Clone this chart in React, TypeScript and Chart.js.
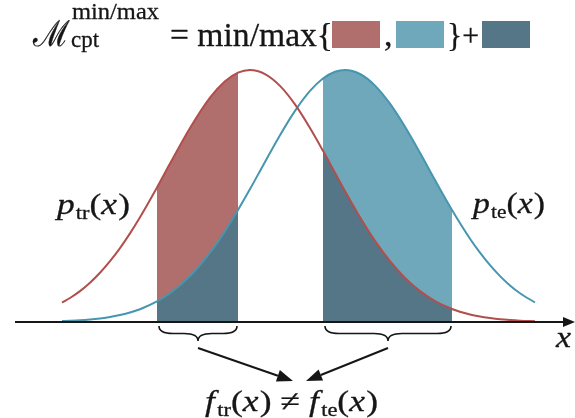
import React, { useEffect, useRef } from "react";
import { Chart, registerables } from "chart.js";

Chart.register(...registerables);

// Sample positions along the x axis and the two densities
const xs = [62, 70, 80, 90, 100, 110, 120, 130, 140, 157, 170, 190, 210, 225, 238, 250, 265, 280, 295, 310, 323, 335, 345, 360, 375, 390, 405, 420, 435, 452, 470, 480, 490, 500, 510, 520, 535];
const pTr = [19.4, 24.0, 30.9, 39.3, 49.2, 60.8, 73.9, 88.6, 104.7, 134.5, 158.4, 194.0, 224.4, 240.8, 249.4, 252, 247.9, 236.1, 217.6, 194.0, 171.2, 149.2, 130.9, 104.7, 81.1, 60.8, 44.1, 30.9, 21.0, 13.0, 7.5, 5.4, 3.9, 2.7, 1.9, 1.3, 0.7];
const pTe = [0.9, 1.2, 1.7, 2.5, 3.6, 5.0, 7.0, 9.5, 12.8, 20.6, 28.8, 45.9, 69.3, 90.8, 112.0, 132.9, 160.1, 186.8, 211.1, 231.1, 243.5, 250.2, 252, 248.0, 236.4, 218.3, 195.2, 169.2, 141.9, 112.0, 83.3, 69.3, 56.8, 45.9, 36.6, 28.8, 19.5];

// Shaded intervals
const trRegion = [157, 238];
const teRegion = [323, 452];

const xRange = [0, 575];
const yRange = [-96, 322];

const RED_LINE = "#b24e4c";
const BLUE_LINE = "#4596ae";
const RED_FILL = "#b06e6c";
const BLUE_FILL = "#6fa8ba";
const DARK_FILL = "#557686";
const INK = "#161616";

const SERIF = '"Liberation Serif", "DejaVu Serif", serif';

type Run = { t: string; size: number; italic?: boolean; dy?: number; gap?: number };

function fontOf(r: Run) {
  return `${r.italic ? "italic " : ""}${r.size}px ${SERIF}`;
}

// draw a sequence of runs, stretched horizontally to span `width`
function drawRuns(ctx: CanvasRenderingContext2D, x: number, y: number, runs: Run[], width?: number) {
  let total = 0;
  for (const r of runs) {
    ctx.font = fontOf(r);
    total += ctx.measureText(r.t).width + (r.gap || 0);
  }
  const k = width ? width / total : 1;
  ctx.save();
  ctx.translate(x, y);
  ctx.scale(k, 1);
  ctx.lineWidth = 0.3;
  ctx.lineJoin = "round";
  let cx = 0;
  for (const r of runs) {
    ctx.font = fontOf(r);
    ctx.fillText(r.t, cx, r.dy || 0);
    ctx.strokeText(r.t, cx, r.dy || 0);
    cx += ctx.measureText(r.t).width + (r.gap || 0);
  }
  ctx.restore();
}

function pts(lo: number, hi: number, vals: number[]) {
  const out: { x: number; y: number }[] = [];
  xs.forEach((x, i) => {
    if (x >= lo && x <= hi) out.push({ x, y: vals[i] });
  });
  return out;
}

function brace(ctx: CanvasRenderingContext2D, x1: number, x2: number, y0: number, h: number) {
  const mid = (x1 + x2) / 2;
  const r = Math.min(14, (x2 - x1) / 4);
  const ym = y0 + h / 2;
  ctx.beginPath();
  ctx.moveTo(x1, y0);
  ctx.quadraticCurveTo(x1, ym, x1 + r, ym);
  ctx.lineTo(mid - r, ym);
  ctx.quadraticCurveTo(mid, ym, mid, y0 + h);
  ctx.quadraticCurveTo(mid, ym, mid + r, ym);
  ctx.lineTo(x2 - r, ym);
  ctx.quadraticCurveTo(x2, ym, x2, y0);
  ctx.stroke();
}

function arrow(ctx: CanvasRenderingContext2D, x0: number, y0: number, x1: number, y1: number, len: number, wid: number) {
  const a = Math.atan2(y1 - y0, x1 - x0);
  const bx = x1 - len * Math.cos(a);
  const by = y1 - len * Math.sin(a);
  ctx.beginPath();
  ctx.moveTo(x0, y0);
  ctx.lineTo(bx, by);
  ctx.stroke();
  ctx.beginPath();
  ctx.moveTo(x1, y1);
  ctx.lineTo(bx + wid * Math.sin(a), by - wid * Math.cos(a));
  ctx.lineTo(bx - wid * Math.sin(a), by + wid * Math.cos(a));
  ctx.closePath();
  ctx.fill();
}

const overlay = {
  id: "overlay",
  afterDraw(chart: any) {
    const ctx: CanvasRenderingContext2D = chart.ctx;
    const X = (v: number) => chart.scales.x.getPixelForValue(v);
    const Y = (v: number) => chart.scales.y.getPixelForValue(v);
    ctx.save();
    ctx.fillStyle = INK;
    ctx.strokeStyle = INK;
    ctx.textBaseline = "alphabetic";

    // axis with arrow
    const y0 = Y(0);
    ctx.lineWidth = 2;
    arrow(ctx, X(15), y0, X(575), y0, 12, 5);
    drawRuns(ctx, 556, 347, [{ t: "x", size: 30, italic: true }], 15);

    // title
    drawRuns(ctx, 33, 46, [{ t: "\u2133", size: 36 }], 37);
    drawRuns(ctx, 72, 19, [{ t: "min/max", size: 24 }], 87);
    drawRuns(ctx, 71, 47, [{ t: "cpt", size: 23 }], 28);
    drawRuns(ctx, 170, 46, [{ t: "= min/max{", size: 34 }], 163);
    ctx.fillStyle = RED_FILL;
    ctx.fillRect(332, 21, 48, 27);
    ctx.fillStyle = BLUE_FILL;
    ctx.fillRect(396, 21, 48, 27);
    ctx.fillStyle = DARK_FILL;
    ctx.fillRect(482, 21, 48, 27);
    ctx.fillStyle = INK;
    drawRuns(ctx, 384, 46, [{ t: ",", size: 34 }]);
    drawRuns(ctx, 447, 46, [{ t: "}", size: 34 }, { t: "+", size: 32 }], 32);

    // curve labels
    const lab = (x: number, y: number, sub: string, w: number) =>
      drawRuns(
        ctx,
        x,
        y,
        [
          { t: "p", size: 30, italic: true, gap: 1 },
          { t: sub, size: 19, dy: 5 },
          { t: "(", size: 30 },
          { t: "x", size: 30, italic: true, gap: 1 },
          { t: ")", size: 30 },
        ],
        w
      );
    lab(57, 214, "tr", 73);
    lab(473, 213, "te", 72);

    // braces and arrows
    ctx.lineWidth = 1.6;
    const b1 = [X(trRegion[0]) + 2, X(trRegion[1]) - 1];
    const b2 = [X(teRegion[0]) + 2, X(teRegion[1]) - 1];
    brace(ctx, b1[0], b1[1], 326, 15);
    brace(ctx, b2[0], b2[1], 326, 15);
    ctx.lineWidth = 2;
    arrow(ctx, (b1[0] + b1[1]) / 2, 348, 293, 381, 16, 6);
    arrow(ctx, (b2[0] + b2[1]) / 2, 348, 306, 381, 16, 6);

    drawRuns(
      ctx,
      205,
      411,
      [
        { t: "f", size: 30, italic: true, gap: 2 },
        { t: "tr", size: 19, dy: 5 },
        { t: "(", size: 30 },
        { t: "x", size: 30, italic: true, gap: 1 },
        { t: ")", size: 30 },
        { t: " \u2260 ", size: 30 },
        { t: "f", size: 30, italic: true, gap: 2 },
        { t: "te", size: 19, dy: 5 },
        { t: "(", size: 30 },
        { t: "x", size: 30, italic: true, gap: 1 },
        { t: ")", size: 30 },
      ],
      173
    );
    ctx.restore();
  },
};

export default function App() {
  const ref = useRef<HTMLCanvasElement>(null);
  useEffect(() => {
    if (!ref.current) return;
    const curve = (vals: number[]) => xs.map((x, i) => ({ x, y: vals[i] }));
    const common = { pointRadius: 0, cubicInterpolationMode: "monotone" as const };
    const chart = new Chart(ref.current, {
      type: "line",
      data: {
        datasets: [
          { ...common, data: curve(pTr), borderColor: RED_LINE, borderWidth: 2, fill: false, order: 0 },
          { ...common, data: curve(pTe), borderColor: BLUE_LINE, borderWidth: 2, fill: false, order: 0 },
          { ...common, data: pts(trRegion[0], trRegion[1], pTr), borderWidth: 0, borderColor: "transparent", backgroundColor: RED_FILL, fill: 3, order: 2 },
          { ...common, data: pts(trRegion[0], trRegion[1], pTe), borderWidth: 0, borderColor: "transparent", backgroundColor: DARK_FILL, fill: "origin", order: 1 },
          { ...common, data: pts(teRegion[0], teRegion[1], pTe), borderWidth: 0, borderColor: "transparent", backgroundColor: BLUE_FILL, fill: 5, order: 2 },
          { ...common, data: pts(teRegion[0], teRegion[1], pTr), borderWidth: 0, borderColor: "transparent", backgroundColor: DARK_FILL, fill: "origin", order: 1 },
        ],
      },
      options: {
        animation: false,
        responsive: false,
        events: [],
        layout: { padding: 0 },
        plugins: { legend: { display: false }, tooltip: { enabled: false }, title: { display: false } },
        scales: {
          x: { type: "linear", min: xRange[0], max: xRange[1], display: false },
          y: { type: "linear", min: yRange[0], max: yRange[1], display: false },
        },
      },
      plugins: [overlay],
    });
    return () => chart.destroy();
  }, []);
  return (
    <div style={{ position: "fixed", left: 0, top: 0, width: 575, height: 418, background: "#fff" }}>
      <canvas ref={ref} width={575} height={418} style={{ display: "block" }} />
    </div>
  );
}
